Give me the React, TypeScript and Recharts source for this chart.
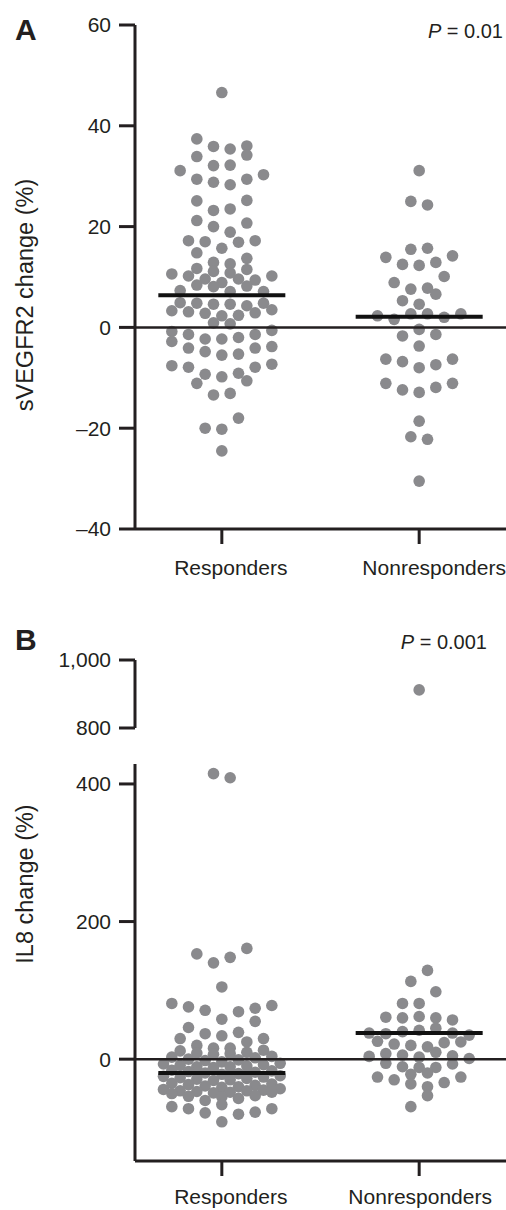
import React from 'react';
import { ScatterChart, Scatter, XAxis, YAxis } from 'recharts';

// ---------- data ----------
const groups = ['Responders', 'Nonresponders'];

// Panel A: sVEGFR2 change (%), dots grouped in horizontal rows, listed left to right
const sVEGFR2Responders: number[][] = [
  [46.6],
  [37.4, 35.9, 35.4, 36.0],
  [33.9, 32.1, 32.2, 34.2],
  [31.1, 29.4, 28.8, 28.3, 29.4, 30.3],
  [25.1, 23.2, 23.5, 25.2],
  [21.2, 20.0, 18.9, 20.7],
  [17.2, 17.0, 15.7, 16.9, 17.2],
  [14.8, 12.9, 12.6, 13.7],
  [11.7, 11.1, 10.8, 11.5],
  [10.6, 10.2, 9.6, 8.9, 9.6, 9.4, 10.2],
  [7.3, 8.4, 8.1, 7.1, 8.2, 7.1],
  [4.9, 4.8, 4.6, 4.6, 4.3, 4.8],
  [3.3, 3.1, 2.8, 2.3, 2.4, 2.9, 3.5],
  [0.9, 0.7],
  [-0.8, -1.4, -2.3, -2.3, -2.0, -1.4, -0.6],
  [-2.8, -4.1, -4.8, -5.5, -5.3, -4.1, -3.8],
  [-7.6, -7.9, -9.3, -9.8, -9.1, -7.9, -7.3],
  [-11.1, -13.4, -13.1, -10.6],
  [-20.0, -20.2, -18.0],
  [-24.5],
];
const sVEGFR2Nonresponders: number[][] = [
  [31.1],
  [25.0, 24.3],
  [15.5, 15.7],
  [13.9, 12.5, 12.3, 12.9, 14.2],
  [8.9, 7.6, 7.8, 10.1],
  [5.3, 4.6, 6.6],
  [2.3, 1.6, 2.7, 2.7, 2.0, 2.7],
  [-1.7, -0.4, -1.4],
  [-3.7],
  [-6.3, -6.8, -8.0, -7.4, -6.3],
  [-11.1, -12.4, -12.9, -11.9, -11.1],
  [-18.6],
  [-21.7, -22.2],
  [-30.5],
];
const sVEGFR2Centers = [6.4, 2.1];
const sVEGFR2Ticks = [-40, -20, 0, 20, 40, 60];
const sVEGFR2Domain = [-40, 60];

// Panel B: IL8 change (%)
const il8Responders: number[][] = [
  [415, 409],
  [153, 140, 148, 161],
  [105],
  [81, 76, 71, 58, 69, 74, 78],
  [46, 37, 34, 39, 55],
  [30, 20, 16, 16, 25, 30],
  [12, 9, 7, 8, 10, 13],
  [3, 0, -2, -4, -1, 2, 4],
  [-7, -9, -11, -12, -11, -10, -8, -6],
  [-16, -18, -20, -22, -21, -19, -17],
  [-25, -27, -29, -31, -30, -28, -26, -24],
  [-35, -37, -39, -41, -40, -38, -36],
  [-44, -46, -47, -49, -48, -46, -45, -43],
  [-50, -54, -60, -55, -57, -53, -48],
  [-69, -72, -78, -66, -80, -77, -72],
  [-91],
];
const il8Nonresponders: number[][] = [
  [912],
  [113, 129],
  [81, 81, 98],
  [61, 60, 62, 60, 57],
  [38, 37, 40, 42, 45, 38, 35],
  [26, 22, 20, 18, 24, 25],
  [4, 8, 6, 3, 10, 5, 1],
  [-6, -11, -12, -12, -7],
  [-22, -20],
  [-26, -30, -36, -40, -34, -26],
  [-69, -53],
];
const il8Centers = [-20, 38];
const il8LowerTicks = [0, 200, 400];
const il8LowerDomain = [-148, 429];
const il8UpperTicks = [800, 1000];
const il8UpperDomain = [800, 1000];

const pValues = ['0.01', '0.001'];

// ---------- layout / style ----------
const W = 506;
const LEFT = 135;
const PLOT_W = W - LEFT;
const X_DOMAIN: [number, number] = [-0.44, 1.44];
const PX_PER_UNIT = PLOT_W / (X_DOMAIN[1] - X_DOMAIN[0]);
const SLOT = 16.67 / PX_PER_UNIT;
const HALF_LINE = 63.5 / PX_PER_UNIT;

const INK = '#231f20';
const DOT = '#8a8a8d';
const FONT = '"Liberation Sans", Arial, Helvetica, sans-serif';
const DOT_R = 5.8;

// horizontal shift (px) of the category labels, per panel
const LABEL_SHIFT_A = [9, 15];
const LABEL_SHIFT_B = [9, 1];

type Pt = { x: number; y: number };

function layoutRows(rows: number[][], center: number): Pt[] {
  const pts: Pt[] = [];
  rows.forEach((row) => {
    const n = row.length;
    row.forEach((v, i) => {
      pts.push({ x: center + (i - (n - 1) / 2) * SLOT, y: v });
    });
  });
  return pts;
}

const dotShape = (p: any) => <circle cx={p.cx} cy={p.cy} r={DOT_R} fill={DOT} />;
const noShape = () => <g />;

const tickStyle = { fill: INK, fontSize: 21, fontFamily: FONT };
const axisLineStyle = { stroke: INK, strokeWidth: 3 };
const tickLineStyle = { stroke: INK, strokeWidth: 3 };

const fmtNum = (v: number) => {
  const s = Math.abs(v).toLocaleString('en-US');
  return v < 0 ? '\u2013' + s : s;
};

const makeCatTick = (shifts: number[]) => (props: any) => {
  const { x, y, payload } = props;
  const idx = payload.value as number;
  return (
    <text x={x + (shifts[idx] ?? 0)} y={y} dy="0.71em" textAnchor="middle" fill={INK} fontSize={21} fontFamily={FONT}>
      {groups[idx] ?? ''}
    </text>
  );
};

function centerLines(centers: number[]) {
  return centers.map((c, i) => (
    <Scatter
      key={'c' + i}
      data={[
        { x: i - HALF_LINE, y: c },
        { x: i + HALF_LINE, y: c },
      ]}
      shape={noShape}
      line={{ stroke: '#111', strokeWidth: 4 }}
      isAnimationActive={false}
    />
  ));
}

function zeroLine() {
  return (
    <Scatter
      data={[
        { x: X_DOMAIN[0], y: 0 },
        { x: X_DOMAIN[1], y: 0 },
      ]}
      shape={noShape}
      line={{ stroke: INK, strokeWidth: 2.5 }}
      isAnimationActive={false}
    />
  );
}

export default function App() {
  const aR = layoutRows(sVEGFR2Responders, 0);
  const aN = layoutRows(sVEGFR2Nonresponders, 1);
  const bR = layoutRows(il8Responders, 0);
  const bN = layoutRows(il8Nonresponders, 1);
  const bRLow = bR.filter((p) => p.y <= il8LowerDomain[1]);
  const bNLow = bN.filter((p) => p.y <= il8LowerDomain[1]);
  const bNHigh = bN.filter((p) => p.y >= il8UpperDomain[0]);
  const bRHigh = bR.filter((p) => p.y >= il8UpperDomain[0]);

  return (
    <div style={{ position: 'absolute', left: 0, top: 0, width: W, height: 1210, overflow: 'hidden', background: '#fff' }}>
      {/* Panel A */}
      <div style={{ position: 'absolute', left: 0, top: 0 }}>
        <ScatterChart width={W} height={600} margin={{ top: 25, right: 0, bottom: 0, left: 0 }}>
          <XAxis
            type="number"
            dataKey="x"
            domain={X_DOMAIN}
            allowDataOverflow
            ticks={[0, 1]}
            interval={0}
            height={71}
            tickSize={15}
            tickMargin={16}
            tick={makeCatTick(LABEL_SHIFT_A)}
            axisLine={axisLineStyle}
            tickLine={tickLineStyle}
          />
          <YAxis
            type="number"
            dataKey="y"
            domain={sVEGFR2Domain}
            allowDataOverflow
            ticks={sVEGFR2Ticks}
            interval={0}
            tickFormatter={fmtNum}
            width={LEFT}
            tickSize={16}
            tickMargin={8}
            tick={tickStyle}
            axisLine={axisLineStyle}
            tickLine={tickLineStyle}
          />
          <Scatter data={aR} shape={dotShape} isAnimationActive={false} />
          <Scatter data={aN} shape={dotShape} isAnimationActive={false} />
          {zeroLine()}
          {centerLines(sVEGFR2Centers)}
        </ScatterChart>
      </div>

      {/* Panel B, upper segment */}
      <div style={{ position: 'absolute', left: 0, top: 600 }}>
        <ScatterChart width={W} height={140} margin={{ top: 60, right: 0, bottom: 12, left: 0 }}>
          <XAxis type="number" dataKey="x" domain={X_DOMAIN} allowDataOverflow hide />
          <YAxis
            type="number"
            dataKey="y"
            domain={il8UpperDomain}
            allowDataOverflow
            ticks={il8UpperTicks}
            interval={0}
            tickFormatter={fmtNum}
            width={LEFT}
            tickSize={16}
            tickMargin={8}
            tick={tickStyle}
            axisLine={axisLineStyle}
            tickLine={tickLineStyle}
          />
          <Scatter data={bRHigh} shape={dotShape} isAnimationActive={false} />
          <Scatter data={bNHigh} shape={dotShape} isAnimationActive={false} />
        </ScatterChart>
      </div>

      {/* Panel B, lower segment */}
      <div style={{ position: 'absolute', left: 0, top: 740 }}>
        <ScatterChart width={W} height={470} margin={{ top: 24, right: 0, bottom: 0, left: 0 }}>
          <XAxis
            type="number"
            dataKey="x"
            domain={X_DOMAIN}
            allowDataOverflow
            ticks={[0, 1]}
            interval={0}
            height={49}
            tickSize={15}
            tickMargin={13}
            tick={makeCatTick(LABEL_SHIFT_B)}
            axisLine={axisLineStyle}
            tickLine={tickLineStyle}
          />
          <YAxis
            type="number"
            dataKey="y"
            domain={il8LowerDomain}
            allowDataOverflow
            ticks={il8LowerTicks}
            interval={0}
            tickFormatter={fmtNum}
            width={LEFT}
            tickSize={16}
            tickMargin={8}
            tick={tickStyle}
            axisLine={axisLineStyle}
            tickLine={tickLineStyle}
          />
          <Scatter data={bRLow} shape={dotShape} isAnimationActive={false} />
          <Scatter data={bNLow} shape={dotShape} isAnimationActive={false} />
          {zeroLine()}
          {centerLines(il8Centers)}
        </ScatterChart>
      </div>

      {/* Panel letters, P values, axis titles */}
      <svg
        width={W}
        height={1210}
        style={{ position: 'absolute', left: 0, top: 0, pointerEvents: 'none' }}
        fontFamily={FONT}
      >
        <text x={15} y={40} fontSize={30} fontWeight="bold" fill={INK}>A</text>
        <text x={15} y={650} fontSize={30} fontWeight="bold" fill={INK}>B</text>
        <text x={503} y={38} fontSize={20} textAnchor="end" fill={INK}>
          <tspan fontStyle="italic">P</tspan> = {pValues[0]}
        </text>
        <text x={487} y={649} fontSize={20} textAnchor="end" fill={INK}>
          <tspan fontStyle="italic">P</tspan> = {pValues[1]}
        </text>
        <text x={33} y={295} fontSize={23.5} textAnchor="middle" fill={INK} transform="rotate(-90 33 295)">
          sVEGFR2 change (%)
        </text>
        <text x={33} y={884} fontSize={23.5} textAnchor="middle" fill={INK} transform="rotate(-90 33 884)">
          IL8 change (%)
        </text>
      </svg>
    </div>
  );
}
